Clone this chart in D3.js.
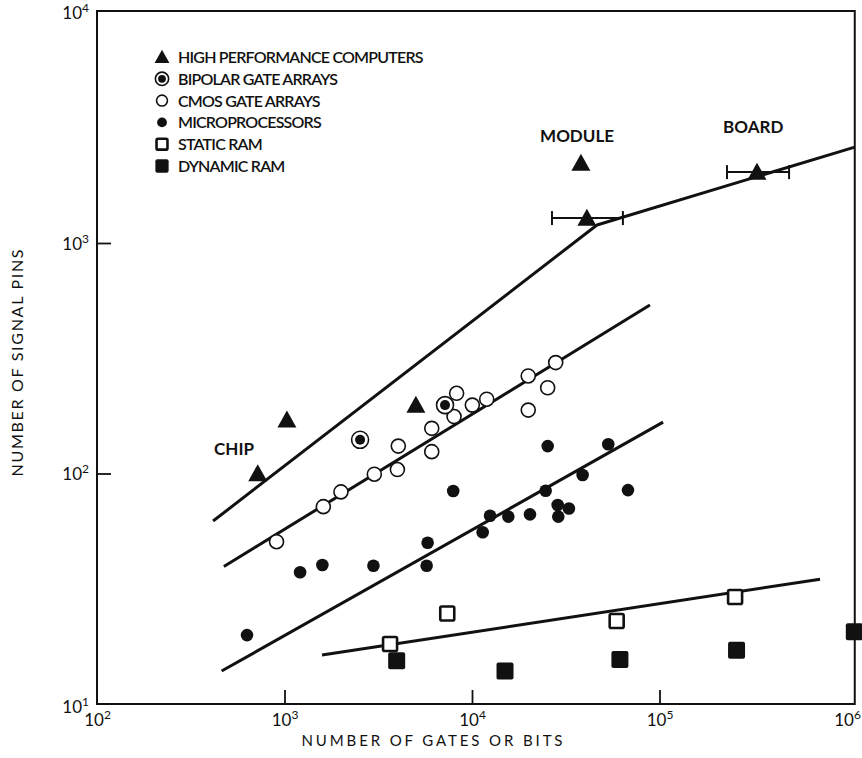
<!DOCTYPE html>
<html>
<head>
<meta charset="utf-8">
<script src="https://cdn.jsdelivr.net/npm/d3@7"></script>
<style>
  html, body { margin: 0; padding: 0; background: #fff; }
  svg { display: block; }
  text { font-family: Lato, "Open Sans", "DejaVu Sans", sans-serif; fill: #111; }
</style>
</head>
<body>
<svg id="chart" width="862" height="758"></svg>
<script>
// ---------- DATA ----------
const hpcX = [720, 1030, 5020, 38100, 41000, 331000];
const hpcY = [100, 171, 198, 2220, 1283, 2030];
const errCenterX = [41000, 331000];
const errY = [1283, 2030];
const errLow = [26700, 229000];
const errHigh = [63800, 491000];

const bipolarX = [2530, 7180];
const bipolarY = [140, 198];

const cmosX = [907, 1611, 2000, 3013, 4000, 4045, 6100, 6100, 8020, 8280, 10040, 11980, 19950, 19950, 25330, 27950];
const cmosY = [50.6, 71.8, 83.2, 99.3, 104, 131.5, 157, 124.4, 176.6, 222.8, 198, 210, 264.9, 188.4, 235.5, 302.8];

const microX = [631, 1211, 1592, 2980, 5730, 5800, 7940, 11400, 12480, 15620, 20380, 24710, 25330, 28640, 28850, 32880, 38900, 53300, 67900];
const microY = [19.9, 37.3, 40.1, 39.8, 39.8, 50.1, 83.9, 55.6, 65.6, 65.0, 66.5, 84.2, 131.5, 73, 65, 70.5, 98.5, 133.9, 84.7];

const sramX = [3656, 7380, 59100, 253000];
const sramY = [18.2, 24.7, 22.9, 29.1];

const dramX = [3965, 15000, 61500, 257600, 1094000];
const dramY = [15.4, 13.9, 15.6, 17.1, 20.6];

const hpcLineX = [416, 46400, 1100000];
const hpcLineY = [62.2, 1197, 2607];
const cmosLineX = [475, 88900];
const cmosLineY = [39.5, 538];
const microLineX = [462, 104500];
const microLineY = [13.9, 167];
const sramLineX = [1585, 718000];
const sramLineY = [16.3, 34.8];

const xTickExp = [2, 3, 4, 5, 6];
const yTickExp = [1, 2, 3, 4];
const legendLabels = ["HIGH PERFORMANCE COMPUTERS", "BIPOLAR GATE ARRAYS", "CMOS GATE ARRAYS", "MICROPROCESSORS", "STATIC RAM", "DYNAMIC RAM"];
const legendKinds = ["tri", "bip", "cmos", "micro", "sram", "dram"];
const regionLabels = ["CHIP", "MODULE", "BOARD"];
const regionX = [421, 23070, 218400];
const regionY = [120, 2742, 2999];
const xTitle = "NUMBER OF GATES OR BITS";
const yTitle = "NUMBER OF SIGNAL PINS";

// ---------- SCALES ----------
const xMaxVal = 1100000;
const x = d3.scaleLog().domain([100, 1e6]).range([97, 847]);
const y = d3.scaleLog().domain([10, 1e4]).range([704, 12.5]);

const svg = d3.select("#chart");
const ink = "#111";

// frame
const x0 = x(100), x1 = x(xMaxVal), yB = y(10), yT = y(1e4) - 1.5;
svg.append("path")
  .attr("d", `M${x0},${yT} L${x0},${yB} L${x1},${yB} L${x1},${yT} Z`)
  .attr("fill", "none").attr("stroke", ink).attr("stroke-width", 2);

// axes (inner ticks)
const xAxis = d3.axisBottom(x).tickValues(xTickExp.map(e => Math.pow(10, e)))
  .tickSizeInner(-14).tickSizeOuter(0).tickFormat("");
const gx = svg.append("g").attr("transform", `translate(0,${yB})`).call(xAxis);
gx.select(".domain").remove();
gx.selectAll(".tick line").attr("stroke", ink).attr("stroke-width", 1.8)
  .attr("display", d => (d === 100 || d === 1e6) ? "none" : null);
gx.selectAll(".tick").append("text")
  .attr("y", 22).attr("text-anchor", "middle").attr("font-size", 17).attr("fill", ink)
  .each(function(d) {
    const t = d3.select(this);
    t.append("tspan").text("10");
    t.append("tspan").attr("dy", -7).attr("font-size", 12).text(Math.round(Math.log10(d)));
  });

const yAxis = d3.axisLeft(y).tickValues(yTickExp.map(e => Math.pow(10, e)))
  .tickSizeInner(-14).tickSizeOuter(0).tickFormat("");
const gy = svg.append("g").attr("transform", `translate(${x0},0)`).call(yAxis);
gy.select(".domain").remove();
gy.selectAll(".tick line").attr("stroke", ink).attr("stroke-width", 1.8)
  .attr("display", d => (d === 10 || d === 1e4) ? "none" : null);
gy.selectAll(".tick").append("text")
  .attr("x", -8).attr("y", d => d === 10 ? 8 : 6).attr("text-anchor", "end").attr("font-size", 17).attr("fill", ink)
  .each(function(d) {
    const t = d3.select(this);
    t.append("tspan").text("10");
    t.append("tspan").attr("dy", -7).attr("font-size", 12).text(Math.round(Math.log10(d)));
  });

// axis titles
svg.append("text").attr("x", 432).attr("y", 746).attr("text-anchor", "middle")
  .attr("font-size", 15).attr("textLength", 261).attr("lengthAdjust", "spacing").text(xTitle);
svg.append("text").attr("transform", `translate(23,363) rotate(-90)`).attr("text-anchor", "middle")
  .attr("font-size", 16).attr("textLength", 227).attr("lengthAdjust", "spacing").text(yTitle);

// ---------- TREND LINES ----------
const line = d3.line().x(d => x(d[0])).y(d => y(d[1]));
[[hpcLineX, hpcLineY], [cmosLineX, cmosLineY], [microLineX, microLineY], [sramLineX, sramLineY]].forEach(([lx, ly]) => {
  svg.append("path").datum(lx.map((v, i) => [v, ly[i]]))
    .attr("d", line).attr("fill", "none").attr("stroke", ink).attr("stroke-width", 3)
    .attr("stroke-linejoin", "round");
});

// ---------- ERROR BARS ----------
errCenterX.forEach((c, i) => {
  const g = svg.append("g").attr("stroke", ink).attr("stroke-width", 2);
  const yy = y(errY[i]);
  g.append("line").attr("x1", x(errLow[i])).attr("x2", x(errHigh[i])).attr("y1", yy).attr("y2", yy);
  g.append("line").attr("x1", x(errLow[i])).attr("x2", x(errLow[i])).attr("y1", yy - 7).attr("y2", yy + 7);
  g.append("line").attr("x1", x(errHigh[i])).attr("x2", x(errHigh[i])).attr("y1", yy - 7).attr("y2", yy + 7);
});

// ---------- SYMBOLS ----------
function drawSymbol(g, kind, cx, cy, s) {
  if (kind === "tri") {
    const w = 19 * s, h = 17 * s;
    g.append("path").attr("d", `M${cx},${cy - h * 0.55} L${cx + w / 2},${cy + h * 0.45} L${cx - w / 2},${cy + h * 0.45} Z`)
      .attr("fill", ink);
  } else if (kind === "bip") {
    g.append("circle").attr("cx", cx).attr("cy", cy).attr("r", 8.5 * s).attr("fill", "#fff").attr("stroke", ink).attr("stroke-width", 1.6);
    g.append("circle").attr("cx", cx).attr("cy", cy).attr("r", 5 * s).attr("fill", ink);
  } else if (kind === "cmos") {
    g.append("circle").attr("cx", cx).attr("cy", cy).attr("r", 7 * s).attr("fill", "#fff").attr("stroke", ink).attr("stroke-width", 1.6);
  } else if (kind === "micro") {
    g.append("circle").attr("cx", cx).attr("cy", cy).attr("r", 6.3 * s).attr("fill", ink);
  } else if (kind === "sram") {
    const a = 14 * s;
    g.append("rect").attr("x", cx - a / 2).attr("y", cy - a / 2).attr("width", a).attr("height", a)
      .attr("rx", 1.5).attr("fill", "#fff").attr("stroke", ink).attr("stroke-width", 2.6);
  } else if (kind === "dram") {
    const a = 17 * s;
    g.append("rect").attr("x", cx - a / 2).attr("y", cy - a / 2).attr("width", a).attr("height", a)
      .attr("rx", 2).attr("fill", ink);
  }
}

const marks = svg.append("g");
sramX.forEach((v, i) => drawSymbol(marks, "sram", x(v), y(sramY[i]), 1));
dramX.forEach((v, i) => drawSymbol(marks, "dram", x(v), y(dramY[i]), 1));
microX.forEach((v, i) => drawSymbol(marks, "micro", x(v), y(microY[i]), 1));
cmosX.forEach((v, i) => drawSymbol(marks, "cmos", x(v), y(cmosY[i]), 1));
bipolarX.forEach((v, i) => drawSymbol(marks, "bip", x(v), y(bipolarY[i]), 1));
hpcX.forEach((v, i) => drawSymbol(marks, "tri", x(v), y(hpcY[i]), 1));

// ---------- REGION LABELS ----------
regionLabels.forEach((t, i) => {
  svg.append("text").attr("x", x(regionX[i])).attr("y", y(regionY[i])).attr("text-anchor", "start")
    .attr("font-size", 17).attr("font-weight", 700).text(t);
});

// ---------- LEGEND ----------
const leg = svg.append("g");
legendLabels.forEach((t, i) => {
  const cy = 57 + i * 21.8;
  drawSymbol(leg, legendKinds[i], 162, cy, 0.78);
  leg.append("text").attr("x", 178).attr("y", cy + 6).attr("font-size", 16).attr("font-weight", 600)
    .attr("letter-spacing", -0.8).text(t);
});
</script>
</body>
</html>
